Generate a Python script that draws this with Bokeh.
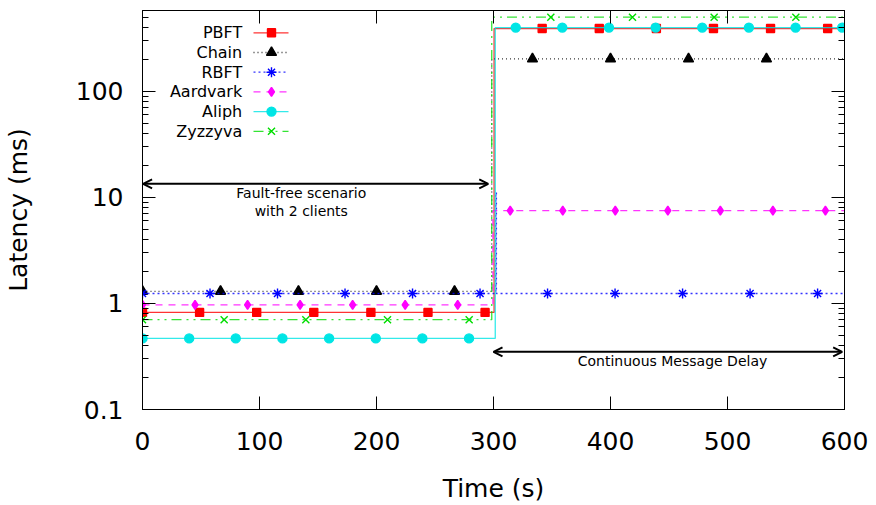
import numpy as np
from bokeh.plotting import figure
from bokeh.models import (Range1d, LinearAxis, LogAxis, FixedTicker, Label, Arrow,
                          OpenHead, CustomJSTickFormatter)
from bokeh.embed import file_html
from bokeh.resources import INLINE

# ---------------- data ----------------
series_names = ["PBFT", "Chain", "RBFT", "Aardvark", "Aliph", "Zyzzyva"]

# step lines: time (s) / latency (ms)
pbft_t = [0, 300.5, 300.5, 600]
pbft_lat = [0.823, 0.823, 390, 390]
chain_t = [0, 298.5, 298.5, 600]
chain_lat = [1.30, 1.30, 202, 202]
rbft_t = [0, 302.0, 302.0, 302.5, 302.5, 600]
rbft_lat = [1.24, 1.24, 11.1, 11.1, 1.24, 1.24]
aard_t = [0, 299.5, 299.5, 600]
aard_lat = [0.97, 0.97, 7.5, 7.5]
aliph_t = [0, 301.5, 301.5, 600]
aliph_lat = [0.468, 0.468, 398, 398]
zyz_t = [0, 298.5, 298.5, 600]
zyz_lat = [0.702, 0.702, 499, 499]

# times at which point markers are drawn
pbft_mt = [0, 48.8, 97.6, 146.4, 195.2, 244.0, 292.8, 341.6, 390.4, 439.2, 488.0, 536.8, 585.6]
chain_mt = [0, 66.7, 133.3, 200.0, 266.7, 333.3, 400.0, 466.7, 533.3]
rbft_mt = [0, 57.7, 115.4, 173.1, 230.8, 288.5, 346.2, 403.9, 461.6, 519.3, 577.0]
aard_mt = [0, 44.9, 89.8, 134.7, 179.6, 224.5, 269.4, 314.3, 359.2, 404.1, 449.0, 493.9, 538.8, 583.7]
aliph_mt = [0, 39.9, 79.7, 119.6, 159.5, 199.4, 239.2, 279.1, 319.0, 358.8, 398.7, 438.6,
            478.4, 518.3, 558.2, 598.0]
zyz_mt = [0, 69.8, 139.6, 209.4, 279.2, 349.0, 418.8, 488.6, 558.4]

x_ticks = [0, 100, 200, 300, 400, 500, 600]
y_ticks = [0.1, 1, 10, 100]

# ---------------- styles ----------------
styles = {
    "PBFT":     dict(color="#ff0000", dash="solid", marker="square", size=8),
    "Chain":    dict(color="#000000", dash="1 3", marker="triangle", size=10),
    "RBFT":     dict(color="#0000ff", dash="2 3", marker="asterisk", size=10),
    "Aardvark": dict(color="#ff00ff", dash="7 6", marker="diamond", size=9),
    "Aliph":    dict(color="#00e5e5", dash="solid", marker="circle", size=9),
    "Zyzzyva":  dict(color="#00dd00", dash="10 5 2 5 2 5", marker="x", size=10),
}
data = {
    "PBFT": (pbft_t, pbft_lat, pbft_mt),
    "Chain": (chain_t, chain_lat, chain_mt),
    "RBFT": (rbft_t, rbft_lat, rbft_mt),
    "Aardvark": (aard_t, aard_lat, aard_mt),
    "Aliph": (aliph_t, aliph_lat, aliph_mt),
    "Zyzzyva": (zyz_t, zyz_lat, zyz_mt),
}

X0, X1 = 0, 600
Y0, Y1 = 0.1, 577
FW, FH = 702, 399
FONT = "DejaVu Sans"

p = figure(frame_width=FW, frame_height=FH,
           x_range=Range1d(X0, X1), y_range=Range1d(Y0, Y1), y_axis_type="log",
           output_backend="svg", toolbar_location=None,
           min_border_left=142, min_border_right=32, min_border_top=10, min_border_bottom=96)
p.background_fill_color = "white"
p.border_fill_color = "white"
p.outline_line_color = "black"
p.outline_line_width = 1
p.xgrid.visible = False
p.ygrid.visible = False

y_minor = [m * 10.0 ** e for e in (-1, 0, 1) for m in range(2, 10)] + [200, 300, 400, 500]
xt = FixedTicker(ticks=x_ticks, minor_ticks=[])
yt = FixedTicker(ticks=y_ticks, minor_ticks=y_minor)


def style_axis(ax):
    ax.axis_line_color = "black"
    ax.major_tick_in = 13
    ax.major_tick_out = 0
    ax.minor_tick_in = 6
    ax.minor_tick_out = 0
    ax.major_tick_line_color = "black"
    ax.minor_tick_line_color = "black"


xa = p.xaxis[0]
xa.ticker = xt
style_axis(xa)
xa.major_label_text_font = FONT
xa.major_label_text_font_size = "25px"
xa.major_label_text_color = "black"
xa.major_label_standoff = 22
xa.axis_label = "Time (s)"
xa.axis_label_text_font = FONT
xa.axis_label_text_font_size = "25px"
xa.axis_label_text_font_style = "normal"
xa.axis_label_text_color = "black"
xa.axis_label_standoff = 21

ya = p.yaxis[0]
ya.ticker = yt
ya.formatter = CustomJSTickFormatter(code="return tick.toString();")
style_axis(ya)
ya.major_label_text_font = FONT
ya.major_label_text_font_size = "25px"
ya.major_label_text_color = "black"
ya.major_label_standoff = 19
ya.axis_label = "Latency (ms)"
ya.axis_label_text_font = FONT
ya.axis_label_text_font_size = "25px"
ya.axis_label_text_font_style = "normal"
ya.axis_label_text_color = "black"
ya.axis_label_standoff = 40

blank = "return '';"
top = LinearAxis(ticker=xt, formatter=CustomJSTickFormatter(code=blank),
                 major_label_text_font_size="1px", major_label_standoff=0)
style_axis(top)
p.add_layout(top, "above")
right = LogAxis(ticker=yt, formatter=CustomJSTickFormatter(code=blank),
                major_label_text_font_size="1px", major_label_standoff=0)
style_axis(right)
p.add_layout(right, "right")


def step_value(ts, ls, m):
    idx = max(i for i, t in enumerate(ts) if t <= m)
    return ls[idx]


for name in series_names:
    ts, ls, mts = data[name]
    st = styles[name]
    p.line(ts, ls, line_color=st["color"], line_width=1.3, line_dash=st["dash"], line_alpha=0.8)
    mv = [step_value(ts, ls, m) for m in mts]
    p.scatter(mts, mv, marker=st["marker"], size=st["size"], line_color=st["color"],
              fill_color=st["color"], line_width=1.4)


# ---------------- legend (text on the left, sample on the right, like gnuplot) ----------------
def px_x(dx):
    return X0 + dx / FW * (X1 - X0)


def px_y(dy):
    ly0, ly1 = np.log10(Y0), np.log10(Y1)
    return 10 ** (ly1 - dy / FH * (ly1 - ly0))


for i, name in enumerate(series_names):
    st = styles[name]
    ry = px_y(22.3 + 19.7 * i)
    p.add_layout(Label(x=px_x(99.7), y=ry, text=name, text_align="right", text_baseline="middle",
                       text_font=FONT, text_font_size="16px", text_color="black"))
    p.line([px_x(111), px_x(146)], [ry, ry], line_color=st["color"], line_width=1.3,
           line_dash=st["dash"], line_alpha=0.8)
    p.scatter([px_x(129)], [ry], marker=st["marker"], size=st["size"], line_color=st["color"],
              fill_color=st["color"], line_width=1.4)

# ---------------- annotations ----------------
p.add_layout(Arrow(x_start=0.5, y_start=13.4, x_end=295.5, y_end=13.4, line_width=2,
                   line_color="black",
                   start=OpenHead(size=9, line_width=2, line_color="black"),
                   end=OpenHead(size=9, line_width=2, line_color="black")))
p.add_layout(Arrow(x_start=300, y_start=0.35, x_end=598, y_end=0.35, line_width=2,
                   line_color="black",
                   start=OpenHead(size=9, line_width=2, line_color="black"),
                   end=OpenHead(size=9, line_width=2, line_color="black")))
p.add_layout(Label(x=135.7, y=10.9, text="Fault-free scenario", text_align="center",
                   text_baseline="middle", text_font=FONT, text_font_size="14px", text_color="black"))
p.add_layout(Label(x=135.7, y=7.49, text="with 2 clients", text_align="center",
                   text_baseline="middle", text_font=FONT, text_font_size="14px", text_color="black"))
p.add_layout(Label(x=453, y=0.284, text="Continuous Message Delay", text_align="center",
                   text_baseline="middle", text_font=FONT, text_font_size="14px", text_color="black"))

open("out.html", "w").write(file_html(p, INLINE))
